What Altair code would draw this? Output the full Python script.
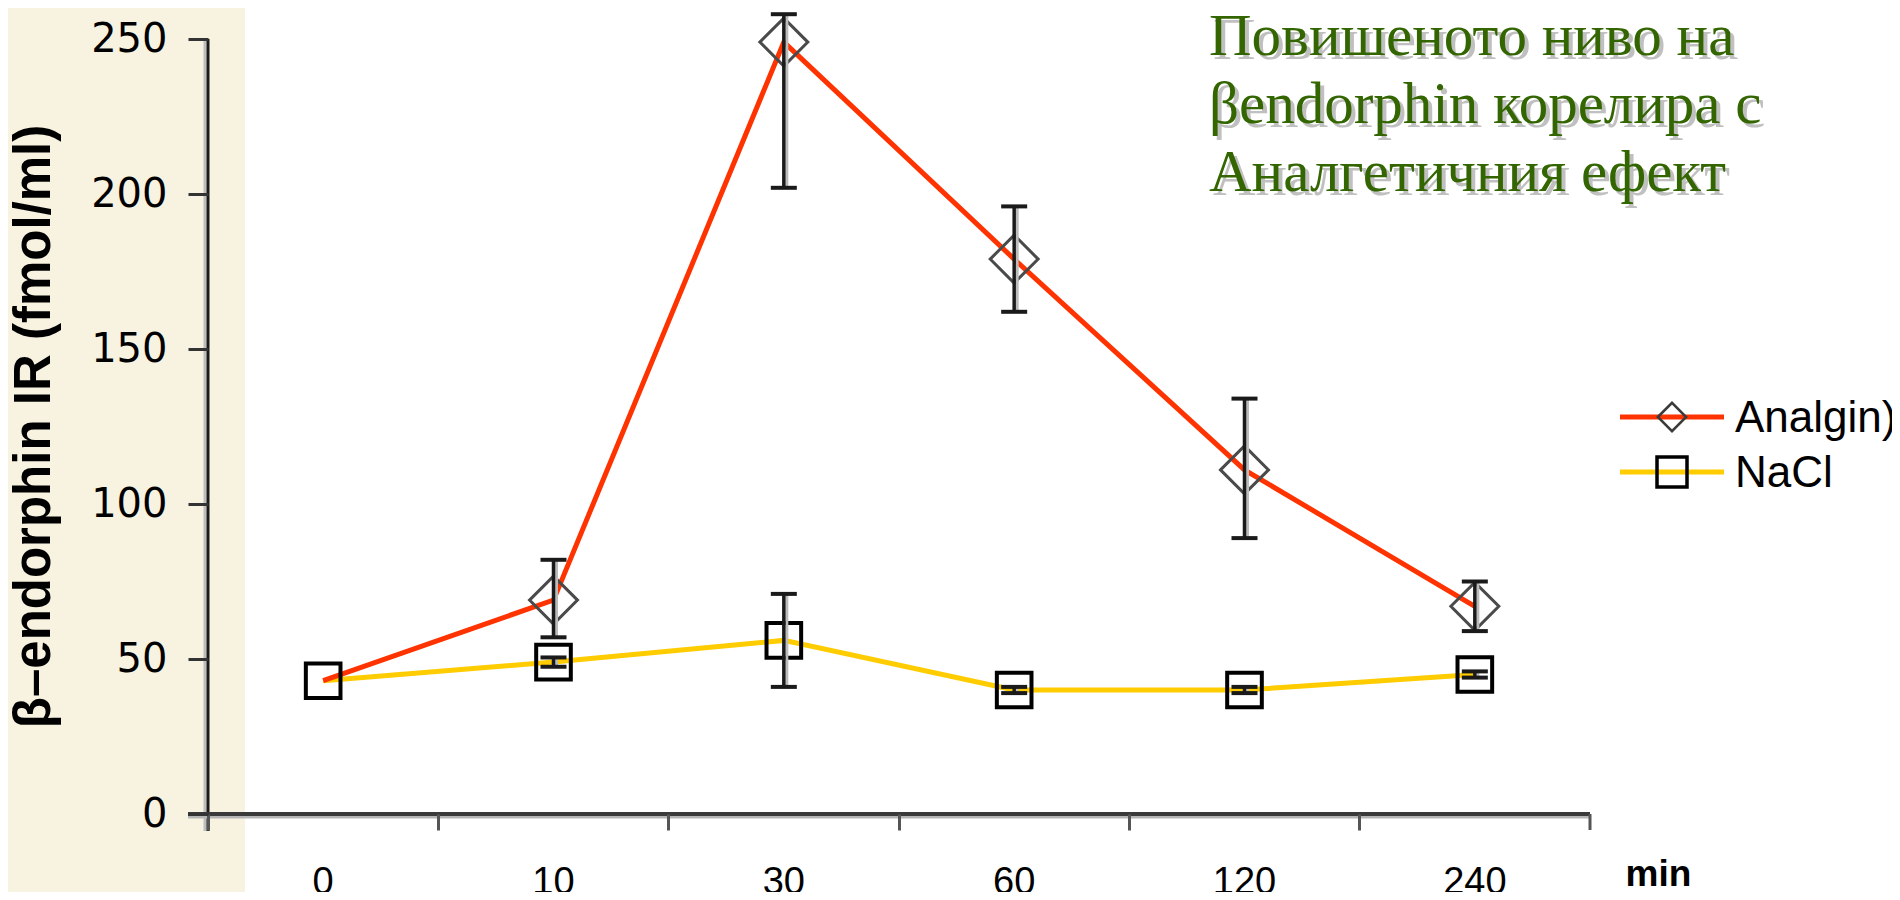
import altair as alt
import pandas as pd

# ---------------- data ----------------
times = ["0", "10", "30", "60", "120", "240"]
series_names = ["Analgin", "NaCl"]
legend_labels = ["Analgin)", "NaCl"]
series_colors = ["#FF3300", "#FFCC00"]

analgin_mean = [43, 69, 249, 179, 111, 67]
analgin_lo = [None, 57, 202, 162, 89, 59]
analgin_hi = [None, 82, 258, 196, 134, 75]

nacl_mean = [43, 49, 56, 40, 40, 45]
nacl_lo = [None, 47.5, 41, 39, 39, 44]
nacl_hi = [None, 50.5, 71, 41, 41, 46]

y_ticks = [0, 50, 100, 150, 200, 250]
y_title = "β–endorphin IR (fmol/ml)"
x_title = "min"
note_lines = ["Повишеното ниво на", "βendorphin корелира с", "Аналгетичния ефект"]

# ---------------- table ----------------
rows = []
for name, means, los, his in [("Analgin", analgin_mean, analgin_lo, analgin_hi),
                              ("NaCl", nacl_mean, nacl_lo, nacl_hi)]:
    for i, t in enumerate(times):
        rows.append({"series": name, "time": t, "idx": i, "mean": means[i],
                     "lo": los[i], "hi": his[i]})
df = pd.DataFrame(rows)
one = pd.DataFrame({"k": [0]})

W, H = 1382, 775
narrow = "Liberation Sans Narrow, Arial Narrow, Liberation Sans, Arial, sans-serif"

x_axis = alt.Axis(bandPosition=0, tickSize=16, tickWidth=3, tickColor="#555555",
                  domain=False, grid=False, labelAngle=0, zindex=2,
                  labelFont=narrow, labelFontSize=38,
                  labelColor="black", labelPadding=33, labelBaseline="top",
                  title=x_title, titleFont=narrow,
                  titleFontWeight="bold", titleFontSize=37, titleColor="black",
                  titleX=1450, titleY=71, titleAlign="center",
                  titleBaseline="alphabetic", titleAngle=0)
x_scale = alt.Scale(type="band", paddingInner=0, paddingOuter=0)
y_axis = alt.Axis(values=y_ticks, tickSize=20, tickWidth=3, tickColor="#333333",
                  domain=False, grid=False, zindex=2, labelFont="DejaVu Sans",
                  labelFontSize=40, labelColor="black", labelPadding=21,
                  title=y_title, titleFont="Liberation Sans, Arial, sans-serif",
                  titleFontWeight="bold", titleFontSize=51, titleColor="black",
                  titleX=-174, titleY=387, titleAngle=-90, titleAlign="center",
                  titleBaseline="middle")
y_scale = alt.Scale(domain=[0, 250], nice=False, zero=True)


def X():
    return alt.X("time:O", sort=times, scale=x_scale, axis=x_axis, bandPosition=0.5)


def Y(field):
    return alt.Y(f"{field}:Q", scale=y_scale, axis=y_axis)


base = alt.Chart(df)

# background strip on the left
strip = alt.Chart(one).mark_rect(color="#F7F3E0").encode(
    x=alt.value(-200), x2=alt.value(37), y=alt.value(-31), y2=alt.value(H + 80))

# axis lines (manual, with shadow)
y_shadow = alt.Chart(one).mark_rule(color="#BDBDBD", strokeWidth=3).encode(
    x=alt.value(-3), y=alt.value(0), y2=alt.value(H + 17))
y_line = alt.Chart(one).mark_rule(color="#1A1A1A", strokeWidth=3).encode(
    x=alt.value(0), y=alt.value(0), y2=alt.value(H + 17))
x_shadow = alt.Chart(one).mark_rule(color="#B5B5B5", strokeWidth=3).encode(
    x=alt.value(-20), x2=alt.value(W), y=alt.value(H + 3))
x_line = alt.Chart(one).mark_rule(color="#3A3A3A", strokeWidth=4).encode(
    x=alt.value(-20), x2=alt.value(W), y=alt.value(H))
end_tick = alt.Chart(one).mark_rule(color="#555555", strokeWidth=3).encode(
    x=alt.value(W), y=alt.value(H), y2=alt.value(H + 16))

color_enc = alt.Color("series:N", scale=alt.Scale(domain=series_names, range=series_colors),
                      legend=None)

line_nacl = base.transform_filter("datum.series == 'NaCl'").mark_line(strokeWidth=5).encode(
    x=X(), y=Y("mean"), color=color_enc, order="idx:Q")
line_an = base.transform_filter("datum.series == 'Analgin'").mark_line(strokeWidth=5).encode(
    x=X(), y=Y("mean"), color=color_enc, order="idx:Q")

sq = base.transform_filter("datum.series == 'NaCl'").mark_point(
    shape="square", size=1200, filled=False, stroke="black", strokeWidth=4, opacity=1).encode(
    x=X(), y=Y("mean"))
dia = base.transform_filter("datum.series == 'Analgin' && isValid(datum.lo)").mark_point(
    shape="diamond", size=2300, filled=False, stroke="#4A4A4A", strokeWidth=3, opacity=1).encode(
    x=X(), y=Y("mean"))

err = base.transform_filter("isValid(datum.lo)")
err_shadow = err.mark_rule(color="#BBBBBB", strokeWidth=3, xOffset=3).encode(
    x=X(), y=Y("lo"), y2="hi:Q")
err_rule = err.mark_rule(color="#1A1A1A", strokeWidth=3.5).encode(
    x=X(), y=Y("lo"), y2="hi:Q")
cap_lo = err.mark_tick(color="#1A1A1A", size=26, thickness=4, orient="horizontal", opacity=1).encode(
    x=X(), y=Y("lo"))
cap_hi = err.mark_tick(color="#1A1A1A", size=26, thickness=4, orient="horizontal", opacity=1).encode(
    x=X(), y=Y("hi"))

# legend (manual)
legend_layers = []
leg_y = [378, 433]
for i, name in enumerate(series_names):
    legend_layers.append(alt.Chart(one).mark_rule(color=series_colors[i], strokeWidth=5).encode(
        x=alt.value(1412), x2=alt.value(1516), y=alt.value(leg_y[i])))
    if i == 0:
        legend_layers.append(alt.Chart(one).mark_point(
            shape="diamond", size=800, filled=False, stroke="#3A3A3A", strokeWidth=2.5,
            opacity=1).encode(x=alt.value(1464), y=alt.value(leg_y[i])))
    else:
        legend_layers.append(alt.Chart(one).mark_point(
            shape="square", size=900, filled=False, stroke="black", strokeWidth=3.5,
            opacity=1).encode(x=alt.value(1464), y=alt.value(leg_y[i])))
    legend_layers.append(alt.Chart(one).mark_text(
        align="left", baseline="middle", font="Liberation Sans", fontSize=44,
        color="black").encode(x=alt.value(1527), y=alt.value(leg_y[i] + 2),
                              text=alt.value(legend_labels[i])))

# annotation text with shadow
note_shadow = alt.Chart(one).mark_text(
    align="left", baseline="alphabetic", font="Liberation Serif", fontSize=59,
    lineHeight=68, color="#C0C0C0").encode(
    x=alt.value(1005), y=alt.value(20), text=alt.value(note_lines))
note = alt.Chart(one).mark_text(
    align="left", baseline="alphabetic", font="Liberation Serif", fontSize=59,
    lineHeight=68, color="#336600").encode(
    x=alt.value(1001), y=alt.value(16), text=alt.value(note_lines))

chart = alt.layer(
    strip, line_nacl, line_an, sq, dia, err_shadow, err_rule, cap_lo, cap_hi,
    y_shadow, y_line, x_shadow, x_line, end_tick,
    *legend_layers, note_shadow, note
).properties(
    width=W, height=H,
    autosize=alt.AutoSizeParams(type="none"),
    padding={"left": 200, "top": 31, "right": 302, "bottom": 78},
    background="white"
).configure_view(stroke=None, clip=False)

chart.save("out.html", embed_options={"renderer": "svg", "actions": False})
